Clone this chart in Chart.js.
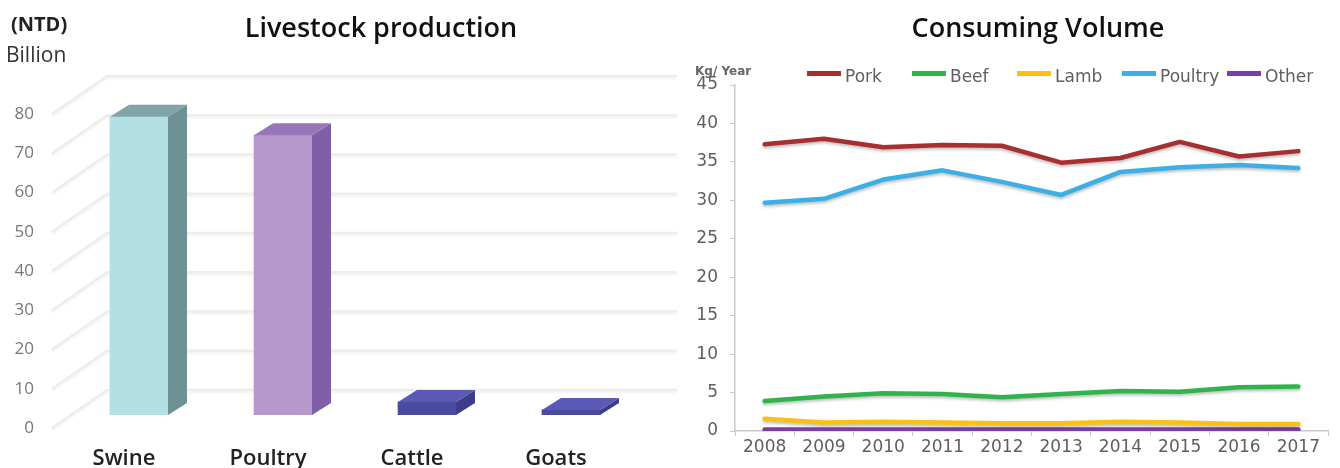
<!DOCTYPE html>
<html>
<head>
<meta charset="utf-8">
<script src="https://cdn.jsdelivr.net/npm/chart.js@4.4.1/dist/chart.umd.min.js"></script>
<style>
body { margin: 0; background: #fff; width: 1340px; height: 468px; overflow: hidden; position: relative; font-family: 'Open Sans', sans-serif; }
canvas { position: absolute; top: 0; }
#livestockChart { left: 0; }
#consumeChart { left: 670px; }
.title { position: absolute; top: 13px; font-size: 27px; line-height: 27px; font-weight: 600; color: #111; white-space: nowrap; transform: translateX(-50%); }
#ntd { position: absolute; left: 11px; top: 14px; font-size: 20px; line-height: 20px; font-weight: 700; color: #222; }
#billion { position: absolute; left: 6px; top: 44px; font-size: 21px; line-height: 21px; color: #333; }
#kg { position: absolute; left: 695px; top: 65px; font-family: 'DejaVu Sans', sans-serif; font-size: 12px; line-height: 12px; font-weight: 700; color: #666; white-space: nowrap; }
</style>
</head>
<body>
<canvas id="livestockChart" width="680" height="468"></canvas>
<canvas id="consumeChart" width="670" height="468"></canvas>
<div class="title" style="left:381px">Livestock production</div>
<div class="title" style="left:1038px">Consuming Volume</div>
<div id="ntd">(NTD)</div>
<div id="billion">Billion</div>
<div id="kg">Kg/ Year</div>
<script>
var animals = ['Swine', 'Poultry', 'Cattle', 'Goats']
var production = [76, 71.3, 3.3, 1.3]

var years = ['2008', '2009', '2010', '2011', '2012', '2013', '2014', '2015', '2016', '2017']
var pork = [37.3, 38.0, 36.9, 37.2, 37.1, 34.9, 35.5, 37.6, 35.7, 36.4]
var beef = [3.9, 4.5, 4.9, 4.8, 4.4, 4.8, 5.2, 5.1, 5.7, 5.8]
var lamb = [1.6, 1.1, 1.2, 1.1, 1.0, 1.0, 1.2, 1.1, 0.9, 0.9]
var poultry = [29.7, 30.2, 32.7, 33.9, 32.4, 30.7, 33.7, 34.3, 34.6, 34.2]
var other = [0.2, 0.2, 0.2, 0.2, 0.2, 0.2, 0.2, 0.2, 0.2, 0.2]

var frontColors = ['#b3e0e5', '#b699ca', '#4a4a9f', '#4a4a9f']
var sideColors = ['#6f9094', '#7f5fa7', '#3d3d8c', '#3d3d8c']
var topColors = ['#80a5a8', '#9a76b8', '#5a5ab6', '#5a5ab6']

// fake 3d: back wall + side/top faces of each bar
var depthX = 19, depthY = -12
var wallX = 55, wallY = -38, wallDrop = 13

var wallPlugin = {
    id: 'wall3d',
    beforeDatasetsDraw: function (chart) {
        var ctx = chart.ctx, area = chart.chartArea, y = chart.scales.y
        ctx.save()
        ctx.strokeStyle = '#ededed'
        ctx.lineWidth = 2.5
        ctx.shadowColor = 'rgba(0,0,0,0.05)'
        ctx.shadowOffsetY = 2
        ctx.shadowBlur = 2
        y.ticks.forEach(function (t) {
            var py = y.getPixelForValue(t.value) + wallDrop
            ctx.beginPath()
            ctx.moveTo(area.left, py)
            ctx.lineTo(area.left + wallX, py + wallY)
            ctx.lineTo(area.right, py + wallY)
            ctx.stroke()
        })
        ctx.restore()
    },
    afterDatasetsDraw: function (chart) {
        var ctx = chart.ctx
        chart.getDatasetMeta(0).data.forEach(function (bar, i) {
            var p = bar.getProps(['x', 'y', 'base', 'width'], true)
            var l = p.x - p.width / 2, r = p.x + p.width / 2
            ctx.fillStyle = sideColors[i]
            ctx.beginPath()
            ctx.moveTo(r, p.y)
            ctx.lineTo(r + depthX, p.y + depthY)
            ctx.lineTo(r + depthX, p.base + depthY)
            ctx.lineTo(r, p.base)
            ctx.closePath()
            ctx.fill()
            ctx.fillStyle = topColors[i]
            ctx.beginPath()
            ctx.moveTo(l, p.y)
            ctx.lineTo(l + depthX, p.y + depthY)
            ctx.lineTo(r + depthX, p.y + depthY)
            ctx.lineTo(r, p.y)
            ctx.closePath()
            ctx.fill()
        })
    }
}

new Chart(document.getElementById('livestockChart'), {
    type: 'bar',
    data: {
        datasets: [{
            data: animals.map(function (a, i) { return { x: i, y: production[i] } }),
            backgroundColor: frontColors,
            barThickness: 58
        }]
    },
    options: {
        responsive: false,
        animation: false,
        layout: { padding: { top: 101, right: 3, left: 0, bottom: 0 } },
        plugins: { legend: { display: false }, tooltip: { enabled: false } },
        scales: {
            x: {
                type: 'linear',
                min: -0.604,
                max: 3.736,
                offset: false,
                grid: { display: false, drawTicks: false },
                border: { display: false },
                afterBuildTicks: function (s) {
                    s.ticks = animals.map(function (a, i) { return { value: i } })
                },
                afterFit: function (s) { s.height = 53 },
                ticks: {
                    callback: function (v) { return animals[v] },
                    labelOffset: -15,
                    padding: 31,
                    autoSkip: false,
                    maxRotation: 0,
                    color: '#222',
                    font: { family: 'Open Sans', size: 22, weight: 600 }
                }
            },
            y: {
                min: 0,
                max: 80,
                grid: { display: false, drawTicks: false },
                border: { display: false },
                afterFit: function (s) { s.width = 52 },
                ticks: {
                    stepSize: 10,
                    labelOffset: 13,
                    padding: 18,
                    color: '#777',
                    font: { family: 'Open Sans', size: 17 }
                }
            }
        }
    },
    plugins: [wallPlugin]
})

var shadowPlugin = {
    id: 'lineShadow',
    beforeDatasetsDraw: function (chart) {
        var ctx = chart.ctx
        ctx.save()
        ctx.shadowColor = 'rgba(0,0,0,0.25)'
        ctx.shadowOffsetY = 2
        ctx.shadowBlur = 3
    },
    afterDatasetsDraw: function (chart) {
        chart.ctx.restore()
    }
}

var legendPlugin = {
    id: 'lineLegend',
    afterDraw: function (chart) {
        var ctx = chart.ctx
        var x = chart.chartArea.left + 72
        ctx.save()
        ctx.font = '17px "DejaVu Sans"'
        ctx.textBaseline = 'middle'
        chart.data.datasets.forEach(function (ds) {
            ctx.fillStyle = ds.borderColor
            ctx.fillRect(x, 71, 34, 5)
            ctx.fillStyle = '#5f5f5f'
            ctx.fillText(ds.label, x + 38, 78)
            x += 105
        })
        ctx.restore()
    }
}

new Chart(document.getElementById('consumeChart'), {
    type: 'line',
    data: {
        labels: years,
        datasets: [
            { label: 'Pork', data: pork, borderColor: '#a82f2f' },
            { label: 'Beef', data: beef, borderColor: '#2fb34c' },
            { label: 'Lamb', data: lamb, borderColor: '#fcc012' },
            { label: 'Poultry', data: poultry, borderColor: '#3cb0e6' },
            { label: 'Other', data: other, borderColor: '#7a3ea6' }
        ]
    },
    options: {
        responsive: false,
        animation: false,
        layout: { padding: { top: 85, right: 12, left: 0, bottom: 0 } },
        elements: {
            line: { borderWidth: 4.5, tension: 0, borderCapStyle: 'round', borderJoinStyle: 'round' },
            point: { radius: 0 }
        },
        plugins: { legend: { display: false }, tooltip: { enabled: false } },
        scales: {
            x: {
                offset: true,
                grid: { offset: true, drawOnChartArea: false, color: '#c8c8c8', tickLength: 5 },
                border: { color: '#c8c8c8', width: 1.5 },
                afterFit: function (s) { s.height = 37 },
                ticks: {
                    padding: 1,
                    autoSkip: false,
                    maxRotation: 0,
                    color: '#5f5f5f',
                    font: { family: 'DejaVu Sans', size: 17 }
                }
            },
            y: {
                min: 0,
                max: 45,
                grid: { drawOnChartArea: false, color: '#c8c8c8', tickLength: 5 },
                border: { color: '#c8c8c8', width: 1.5 },
                afterFit: function (s) { s.width = 65 },
                ticks: {
                    stepSize: 5,
                    padding: 12,
                    color: '#5f5f5f',
                    font: { family: 'DejaVu Sans', size: 17 }
                }
            }
        }
    },
    plugins: [shadowPlugin, legendPlugin]
})
</script>
</body>
</html>
